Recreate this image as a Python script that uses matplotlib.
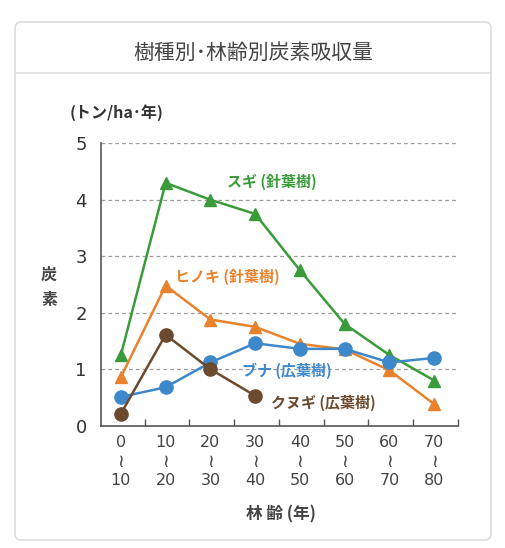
import matplotlib
matplotlib.use("Agg")
import matplotlib.pyplot as plt
from matplotlib.patches import FancyBboxPatch
from matplotlib.lines import Line2D

plt.rcParams["font.family"] = ["Noto Sans CJK JP", "DejaVu Sans"]

# 林齢区分 (years)
age_start = [0, 10, 20, 30, 40, 50, 60, 70]
age_end = [10, 20, 30, 40, 50, 60, 70, 80]

# 炭素吸収量 (トン/ha・年)
sugi = [1.25, 4.3, 4.0, 3.75, 2.75, 1.8, 1.25, 0.8]
hinoki = [0.86, 2.48, 1.88, 1.75, 1.45, 1.35, 0.98, 0.38]
buna = [0.51, 0.68, 1.12, 1.46, 1.36, 1.36, 1.12, 1.2]
kunugi = [0.21, 1.61, 1.0, 0.53]

GREEN = "#3a9b3a"
ORANGE = "#e8822c"
BLUE = "#3d87cb"
BROWN = "#6b4a2e"

W, H = 506, 548
fig = plt.figure(figsize=(W / 100, H / 100), dpi=100)


def fx(px):
    return px / W


def fy(py):
    return 1 - py / H


# card frame
frame = FancyBboxPatch((fx(15), fy(540)), fx(491) - fx(15), fy(22) - fy(540),
                       boxstyle="round,pad=0,rounding_size=0.012",
                       transform=fig.transFigure, fc="white", ec="#dcdcdc", lw=1.2,
                       zorder=-10)
fig.patches.append(frame)
fig.lines.append(Line2D([fx(15), fx(491)], [fy(73), fy(73)],
                        transform=fig.transFigure, color="#e0e0e0", lw=1.2, zorder=-9))
fig.text(0.5, fy(53), "樹種別･林齢別炭素吸収量", ha="center", va="center",
         fontsize=15, color="#444444")

ax = fig.add_axes([fx(100.7), fy(425.7), fx(458) - fx(100.7), fy(143.3) - fy(425.7)])
ax.set_facecolor("none")

x = list(range(len(age_start)))
ax.plot(x, sugi, color=GREEN, lw=1.8, marker="^", ms=9, clip_on=False, zorder=3)
ax.plot(x, hinoki, color=ORANGE, lw=1.8, marker="^", ms=9, clip_on=False, zorder=3)
ax.plot(x, buna, color=BLUE, lw=1.8, marker="o", ms=9.5, clip_on=False, zorder=4)
ax.plot(x[:len(kunugi)], kunugi, color=BROWN, lw=1.8, marker="o", ms=9.5,
        clip_on=False, zorder=4)

ax.set_xlim(-0.45, 7.49)
ax.set_ylim(0, 5)

for v in range(1, 6):
    ax.axhline(v, color="#9a9a9a", lw=0.9, ls=(0, (3, 2.5)), zorder=1)

ax.set_yticks(range(0, 6))
ax.set_yticklabels([str(v) for v in range(0, 6)], fontsize=13, color="#333333",
                   family="DejaVu Sans")
ax.tick_params(axis="y", length=0, pad=10)

ax.set_xticks([i + 0.53 for i in range(len(age_start))])
ax.set_xticklabels([])
ax.tick_params(axis="x", direction="in", length=5, color="#555555", width=1)
for i, (a, b) in enumerate(zip(age_start, age_end)):
    ax.text(i, -0.3, str(a), ha="center", va="center", fontsize=11.5,
            color="#444444", transform=ax.transData, family="DejaVu Sans")
    ax.text(i, -0.65, "≀", ha="center", va="center", fontsize=13,
            color="#444444", transform=ax.transData, family="DejaVu Sans")
    ax.text(i, -0.97, str(b), ha="center", va="center", fontsize=11.5,
            color="#444444", transform=ax.transData, family="DejaVu Sans")

for side in ["top", "right"]:
    ax.spines[side].set_visible(False)
for side in ["left", "bottom"]:
    ax.spines[side].set_color("#555555")
    ax.spines[side].set_linewidth(1.2)

# series labels
ax.text(2.36, 4.31, "スギ (針葉樹)", color=GREEN, fontsize=10.8, fontweight="bold",
        va="center", ha="left")
ax.text(1.2, 2.63, "ヒノキ (針葉樹)", color=ORANGE, fontsize=10.8, fontweight="bold",
        va="center", ha="left")
ax.text(2.71, 0.97, "ブナ (広葉樹)", color=BLUE, fontsize=10.8, fontweight="bold",
        va="center", ha="left")
ax.text(3.36, 0.40, "クヌギ (広葉樹)", color=BROWN, fontsize=10.8, fontweight="bold",
        va="center", ha="left")

fig.text(fx(70), fy(113), "(トン/ha･年)", ha="left", va="center", fontsize=11.5,
         color="#333333", fontweight="bold")
fig.text(fx(49), fy(275), "炭", ha="center", va="center", fontsize=11.5,
         color="#444444", fontweight="bold")
fig.text(fx(49), fy(300), "素", ha="center", va="center", fontsize=11.5,
         color="#444444", fontweight="bold")
fig.text(fx(281), fy(514), "林 齢 (年)", ha="center", va="center", fontsize=12,
         color="#444444", fontweight="bold")

fig.savefig("out.png", dpi=100)
